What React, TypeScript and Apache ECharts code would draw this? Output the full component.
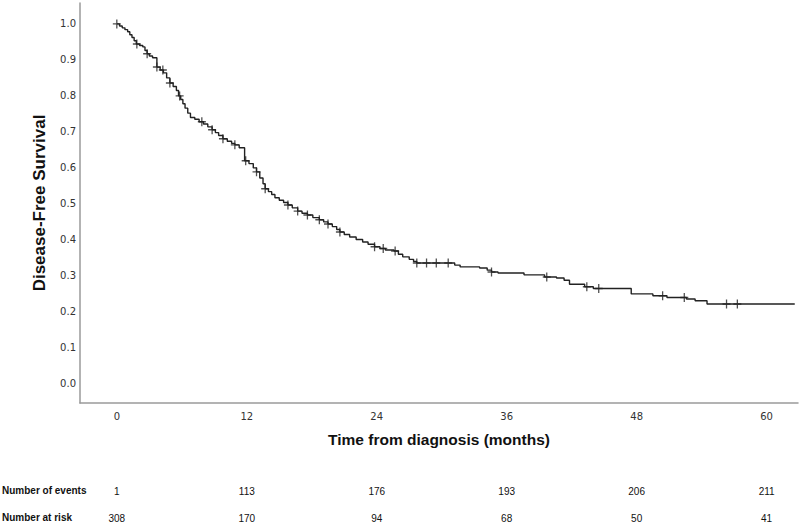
import React, { useEffect, useRef } from "react";
import * as echarts from "echarts";

// Kaplan-Meier steps: time (months) and survival after the drop at that time
const eventTimes = [0, 0.25, 0.5, 0.75, 1.0, 1.2, 1.4, 1.6, 1.8, 2.1, 2.4, 2.6, 2.8, 3.0, 3.3, 3.7, 4.0, 4.3, 4.6, 4.9, 5.2, 5.5, 5.7, 5.9, 6.1, 6.3, 6.55, 6.8, 7.2, 7.6, 8.0, 8.4, 8.8, 9.1, 9.4, 9.8, 10.2, 10.6, 10.9, 11.3, 11.8, 12.2, 12.6, 12.9, 13.2, 13.5, 13.7, 14.0, 14.3, 14.6, 15.0, 15.4, 15.8, 16.2, 16.7, 17.1, 17.6, 18.1, 18.7, 19.1, 19.5, 19.9, 20.3, 20.6, 21.0, 21.5, 22.1, 22.7, 23.2, 23.8, 24.3, 24.8, 25.6, 26.0, 26.4, 27.0, 27.4, 27.7, 31.2, 31.7, 33.5, 34.2, 34.6, 35.2, 37.6, 39.5, 40.6, 41.3, 41.8, 43.2, 44.0, 47.5, 49.5, 50.8, 52.6, 53.4, 54.5, 62.6];
const survival = [1.0, 0.994, 0.989, 0.984, 0.978, 0.970, 0.962, 0.953, 0.944, 0.940, 0.936, 0.926, 0.917, 0.911, 0.906, 0.880, 0.872, 0.864, 0.850, 0.836, 0.826, 0.815, 0.800, 0.790, 0.778, 0.766, 0.752, 0.740, 0.735, 0.728, 0.722, 0.714, 0.706, 0.698, 0.690, 0.681, 0.674, 0.668, 0.664, 0.656, 0.620, 0.612, 0.600, 0.589, 0.572, 0.556, 0.542, 0.534, 0.526, 0.517, 0.510, 0.504, 0.497, 0.489, 0.480, 0.474, 0.469, 0.462, 0.456, 0.450, 0.444, 0.437, 0.429, 0.422, 0.415, 0.408, 0.401, 0.394, 0.388, 0.381, 0.376, 0.372, 0.369, 0.360, 0.353, 0.346, 0.340, 0.336, 0.330, 0.325, 0.322, 0.316, 0.311, 0.308, 0.303, 0.297, 0.294, 0.288, 0.277, 0.270, 0.265, 0.250, 0.245, 0.240, 0.236, 0.231, 0.222, 0.222];

// Censored observations (months)
const censorTimes = [0, 1.85, 2.8, 3.7, 4.25, 4.9, 5.8, 7.85, 8.8, 9.8, 10.9, 11.9, 12.9, 13.7, 15.8, 16.7, 17.6, 18.7, 19.5, 20.6, 23.8, 24.6, 25.7, 27.7, 28.6, 29.5, 30.6, 34.6, 39.7, 43.4, 44.5, 50.4, 52.4, 56.3, 57.3];

const xTicks = [0, 12, 24, 36, 48, 60];
const yTicks = [0, 0.1, 0.2, 0.3, 0.4, 0.5, 0.6, 0.7, 0.8, 0.9, 1.0];

const riskRowLabels = ["Number of events", "Number at risk"];
const numberOfEvents = [1, 113, 176, 193, 206, 211];
const numberAtRisk = [308, 170, 94, 68, 50, 41];

function survivalAt(t: number): number {
  let s = survival[0];
  for (let i = 0; i < eventTimes.length; i++) {
    if (eventTimes[i] <= t) s = survival[i];
    else break;
  }
  return s;
}

const plusPath =
  "path://M0.42,0 H0.58 V0.42 H1 V0.58 H0.58 V1 H0.42 V0.58 H0 V0.42 H0.42 Z";

export default function App() {
  const ref = useRef<HTMLDivElement>(null);
  useEffect(() => {
    if (!ref.current) return;
    const chart = echarts.init(ref.current, null, { renderer: "svg" });
    const curve = eventTimes.map((t, i) => [t, survival[i]]);
    const censors = censorTimes.map((t) => [t, survivalAt(t)]);
    chart.setOption({
      animation: false,
      backgroundColor: "#ffffff",
      grid: { left: 80, right: 2, top: 3, bottom: 123, containLabel: false },
      xAxis: {
        type: "value",
        min: -3.4,
        max: 62.9,
        name: "Time from diagnosis (months)",
        nameLocation: "middle",
        nameGap: 28,
        nameTextStyle: {
          fontFamily: "Liberation Sans, Arial, sans-serif",
          fontWeight: "bold",
          fontSize: 15.5,
          color: "#111",
        },
        splitLine: { show: false },
        axisTick: { show: false },
        axisLine: { show: true, onZero: false, lineStyle: { color: "#9a9a9a", width: 1.5 } },
        axisLabel: {
          customValues: xTicks,
          margin: 8,
          fontFamily: "DejaVu Sans, sans-serif",
          fontSize: 10,
          color: "#333",
        },
      },
      yAxis: {
        type: "value",
        min: -0.053,
        max: 1.058,
        name: "Disease-Free Survival",
        nameLocation: "middle",
        nameGap: 32,
        nameTextStyle: {
          fontFamily: "Liberation Sans, Arial, sans-serif",
          fontWeight: "bold",
          fontSize: 17,
          color: "#111",
        },
        splitLine: { show: false },
        axisTick: { show: false },
        axisLine: { show: true, onZero: false, lineStyle: { color: "#9a9a9a", width: 1.5 } },
        axisLabel: {
          customValues: yTicks,
          margin: 4,
          formatter: (v: number) => v.toFixed(1),
          fontFamily: "DejaVu Sans, sans-serif",
          fontSize: 10,
          color: "#333",
        },
      },
      series: [
        {
          type: "line",
          step: "end",
          data: curve,
          showSymbol: false,
          symbol: "none",
          lineStyle: { color: "#222", width: 1.4 },
          silent: true,
        },
        {
          type: "scatter",
          data: censors,
          symbol: plusPath,
          symbolSize: [8, 9],
          itemStyle: { color: "#222" },
          silent: true,
        },
      ],
    });

    const xPix = xTicks.map((t) => chart.convertToPixel({ xAxisIndex: 0 }, t) as number);
    const rowY = [491, 518];
    const textStyleBase = {
      fontFamily: "Liberation Sans Narrow, Liberation Sans, Arial, sans-serif",
      fontSize: 10,
      fill: "#111",
    };
    const graphics: any[] = [];
    riskRowLabels.forEach((lab, r) => {
      graphics.push({
        type: "text",
        left: 2,
        top: rowY[r] - 6,
        style: { ...textStyleBase, text: lab, fontWeight: "bold" },
      });
    });
    [numberOfEvents, numberAtRisk].forEach((row, r) => {
      row.forEach((v, i) => {
        graphics.push({
          type: "text",
          x: xPix[i],
          y: rowY[r],
          style: {
            ...textStyleBase,
            text: String(v),
            align: "center",
            verticalAlign: "middle",
          },
        });
      });
    });
    chart.setOption({ graphic: graphics });

    return () => chart.dispose();
  }, []);
  return <div ref={ref} style={{ width: 800, height: 526, position: "absolute", left: 0, top: 0 }} />;
}
